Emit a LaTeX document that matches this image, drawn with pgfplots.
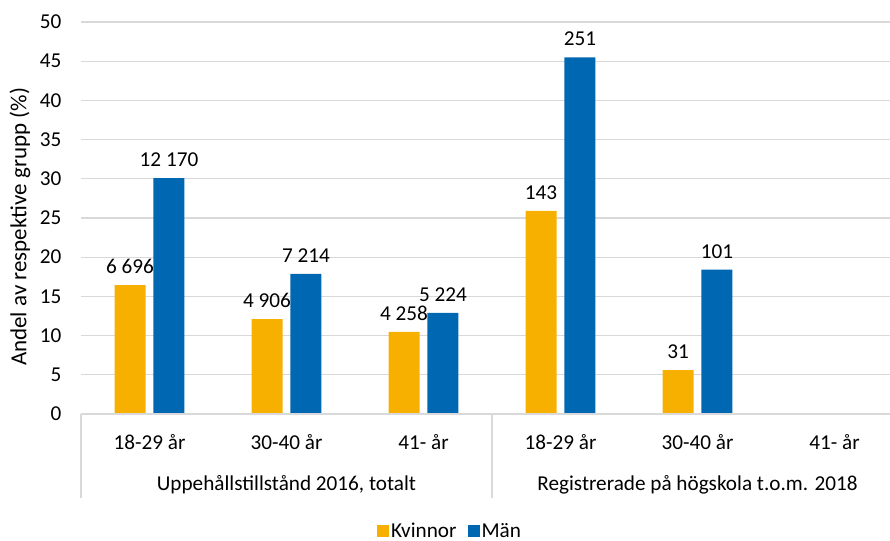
\documentclass[border=0pt]{standalone}
\usepackage{pgfplots}
\pgfplotsset{compat=1.18}
\usepackage{fontspec}
\setmainfont{Carlito}
\definecolor{kv}{RGB}{248,176,0}
\definecolor{man}{RGB}{0,103,178}
\definecolor{gridc}{RGB}{217,217,217}
\newcommand{\fs}{\fontsize{21.2bp}{25bp}\selectfont}
\begin{document}
\begin{tikzpicture}
\begin{axis}[
  name=ax,
  scale only axis, width=822bp, height=392bp,
  xmin=-0.5, xmax=5.5, ymin=0, ymax=50,
  clip=false,
  font=\fs,
  /pgf/number format/assume math mode=true,
  axis line style={draw=none},
  tick style={draw=none},
  ytick={0,5,...,50},
  ymajorgrids, grid style={gridc, line width=1.2bp},
  xtick={0,1,2,3,4,5},
  xticklabels={18-29 år,30-40 år,41- år,18-29 år,30-40 år,41- år},
  xticklabel style={anchor=center, yshift=-28bp},
  yticklabel style={anchor=east, xshift=-16bp},
  ylabel={Andel av respektive grupp (\%)},
  every axis y label/.style={at={(-61bp,187bp)}, rotate=90, anchor=center, font=\fontsize{23bp}{27bp}\selectfont},
  legend style={at={(0.449,-0.298)}, anchor=center, draw=none, fill=none,
    legend columns=2, font=\fs,
    nodes={inner sep=2bp},
    /tikz/every even column/.append style={column sep=9bp}},
  legend image code/.code={\fill[#1] (0bp,-6bp) rectangle (12bp,6bp);},
  nodes near coords,
  point meta=explicit symbolic,
  every node near coord/.append style={font=\fs, color=black, anchor=south, yshift=8bp},
]
\addplot[ybar, fill=kv, draw=none, bar width=0.226, bar shift=-0.142,
  nodes near coords style={xshift=-19.5bp}]
  coordinates {(0,16.45)[6 696] (1,12.1)[4 906] (2,10.46)[4 258] (3,25.9)[143] (4,5.6)[31]};
\addlegendentry{Kvinnor}
\addplot[ybar, fill=man, draw=none, bar width=0.226, bar shift=0.142,
  nodes near coords style={xshift=19.5bp}]
  coordinates {(0,30.1)[12 170] (1,17.86)[7 214] (2,12.9)[5 224] (3,45.5)[251] (4,18.4)[101]};
\addlegendentry{Män}
\draw[gridc, line width=1.2bp] (axis cs:-0.5,0) -- (axis cs:5.5,0);
\draw[gridc, line width=1.2bp] (axis cs:-0.5,0) -- ([yshift=-84bp]axis cs:-0.5,0);
\draw[gridc, line width=1.2bp] (axis cs:2.5,0) -- ([yshift=-84bp]axis cs:2.5,0);
\draw[gridc, line width=1.2bp] (axis cs:5.5,0) -- ([yshift=-84bp]axis cs:5.5,0);
\node[font=\fs] at ([yshift=-71bp]axis cs:1,0) {Uppehållstillstånd 2016, totalt};
\node[font=\fs] at ([yshift=-71bp]axis cs:4,0) {Registrerade på högskola t.o.m. 2018};
\end{axis}
\pgfresetboundingbox
\path[use as bounding box] ([shift={(-81bp,-127bp)}]ax.south west) rectangle ([shift={(-13bp,22bp)}]ax.north east);
\end{tikzpicture}
\end{document}
